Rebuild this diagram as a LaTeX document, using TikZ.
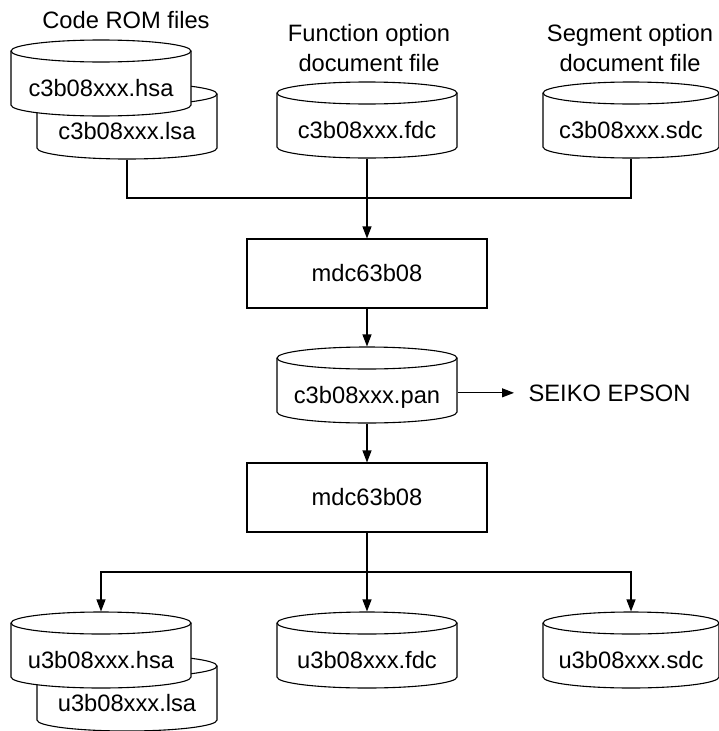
\documentclass[tikz,border=0pt]{standalone}
\usepackage{fontspec}
\setmainfont{Liberation Sans}
\usetikzlibrary{arrows.meta}
\tikzset{
  every path/.style={line width=1.1pt},
  arr/.style={-{Triangle[length=12pt,width=9pt]}},
  lbl/.style={inner sep=0pt, font=\fontsize{23.7}{30}\selectfont},
  cylbox/.style={draw=none, inner sep=0pt, minimum height=76pt},
  procbox/.style={draw, line width=1.1pt, inner sep=0pt, minimum width=240pt, minimum height=69pt, font=\fontsize{23.7}{30}\selectfont},
}
\newcommand\cyl[5]{%
  \filldraw[fill=white] (#2-#4,#3) -- (#2-#4,#3+54)
     arc[start angle=180,end angle=360,x radius=#4pt,y radius=11pt]
     -- (#2+#4,#3)
     arc[start angle=0,end angle=180,x radius=#4pt,y radius=11pt] -- cycle;
  \draw (#2-#4,#3) arc[start angle=180,end angle=360,x radius=#4pt,y radius=11pt];
  \node[cylbox, minimum width=2*#4pt] (#1) at (#2,#3+27) {};
  \node[lbl, anchor=base] (#1-t) at (#2,#3+45) {#5};
}
\begin{document}
\begin{tikzpicture}[x=1pt,y=-1pt]
\useasboundingbox (0,0) rectangle (719,731);
% titles
\node[lbl, anchor=base] (rom) at (126,28) {Code ROM files};
\node[lbl, anchor=base, align=center] (fopt) at (369,71) {Function option\\document file};
\node[lbl, anchor=base, align=center] (sopt) at (630,71) {Segment option\\document file};
% top cylinders
\cyl{lsa1}{127}{94}{90}{c3b08xxx.lsa}
\cyl{hsa1}{101}{51}{90}{c3b08xxx.hsa}
\cyl{fdc1}{367}{93}{90}{c3b08xxx.fdc}
\cyl{sdc1}{631}{93}{88}{c3b08xxx.sdc}
% processing
\node[procbox] (mdc1) at (367,273.5) {mdc63b08};
\cyl{pan}{367}{358}{90}{c3b08xxx.pan}
\node[lbl, anchor=base west] (epson) at (528,401) {SEIKO EPSON};
\node[procbox] (mdc2) at (367,497.5) {mdc63b08};
% bottom cylinders
\cyl{lsa2}{127}{666}{90}{u3b08xxx.lsa}
\cyl{hsa2}{101}{623}{90}{u3b08xxx.hsa}
\cyl{fdc2}{367}{623}{90}{u3b08xxx.fdc}
\cyl{sdc2}{631}{623}{88}{u3b08xxx.sdc}
% connectors
\coordinate (j1) at (367,198);
\coordinate (j2) at (367,572);
\draw (lsa1.south) |- (j1) -| (sdc1.south);
\draw[arr] (fdc1.south) -- (mdc1.north);
\draw[arr] (mdc1.south) -- (pan.north);
\draw[arr, shorten >=14pt] (pan.east |- epson) -- (epson.west);
\draw[arr] (pan.south) -- (mdc2.north);
\draw[arr] (mdc2.south) -- (fdc2.north);
\draw[arr] (j2) -| (hsa2.north);
\draw[arr] (j2) -| (sdc2.north);
\end{tikzpicture}
\end{document}
